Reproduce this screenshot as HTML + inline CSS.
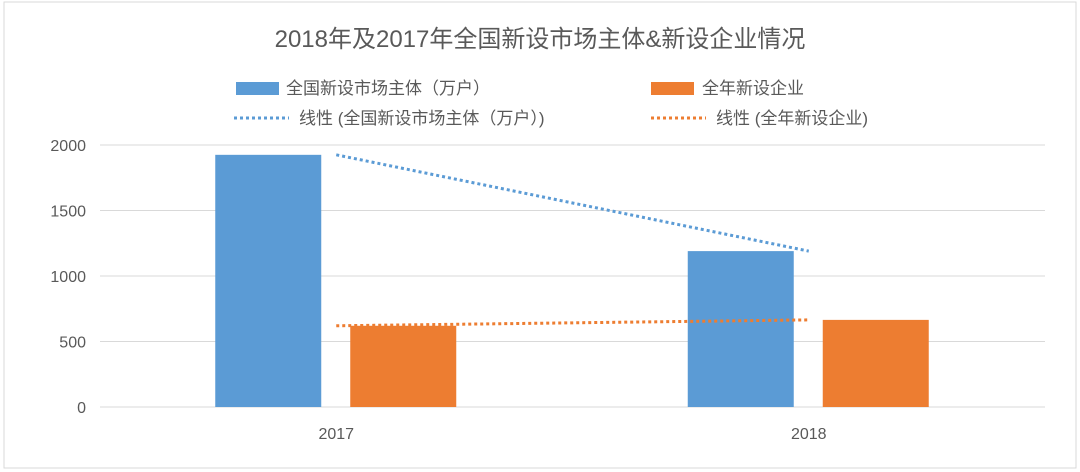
<!DOCTYPE html>
<html><head><meta charset="utf-8"><style>
body{margin:0;background:#fff;}
svg{display:block;font-family:"Liberation Sans","Noto Sans CJK SC",sans-serif;}
</style></head><body>
<svg id="chart" width="1080" height="472">
<rect x="4" y="2" width="1072" height="466" fill="#fff" stroke="#d9d9d9"/>
<text x="540" y="47" text-anchor="middle" font-size="24" fill="#595959">2018年及2017年全国新设市场主体&amp;新设企业情况</text>
<g>
<rect x="236" y="82" width="43" height="13" fill="#5b9bd5"/>
<text x="286" y="94" font-size="17" fill="#595959">全国新设市场主体（万户）</text>
<rect x="651" y="82" width="43" height="13" fill="#ed7d31"/>
<text x="702" y="94" font-size="17" fill="#595959">全年新设企业</text>
<line x1="234" y1="118" x2="289" y2="118" stroke="#5b9bd5" stroke-width="3" stroke-dasharray="3,3"/>
<text x="299" y="124" font-size="17" fill="#595959">线性 (全国新设市场主体（万户）)</text>
<line x1="651" y1="118" x2="706" y2="118" stroke="#ed7d31" stroke-width="3" stroke-dasharray="3,3"/>
<text x="716" y="124" font-size="17" fill="#595959">线性 (全年新设企业)</text>
</g>
<g id="plot"></g>
</svg>
<script>
const categories=["2017","2018"];
const entities=[1925,1190];
const enterprises=[620,665];
const yTicks=[0,500,1000,1500,2000];
const NS="http://www.w3.org/2000/svg";
const plot=document.getElementById("plot");
const x0=100,x1=1045,yb=407,yt=145,ymax=2000;
const y=v=>yb-(v/ymax)*(yb-yt);
const band=(x1-x0)/categories.length;
const cx=i=>x0+band*(i+0.5);
function mk(tag,attrs){const e=document.createElementNS(NS,tag);for(const k in attrs)e.setAttribute(k,attrs[k]);plot.appendChild(e);return e;}
yTicks.forEach(t=>{
const g=mk("line",{x1:x0,x2:x1,y1:y(t),y2:y(t),stroke:"#d9d9d9","stroke-width":1});


const l=mk("text",{x:86,y:y(t)+6,"text-anchor":"end","font-size":16,fill:"#595959"});
l.textContent=t;


});
const bw=106;
categories.forEach((c,i)=>{
const b1=mk("rect",{x:cx(i)-121,y:y(entities[i]),width:bw,height:yb-y(entities[i]),fill:"#5b9bd5"});


const b2=mk("rect",{x:cx(i)+14,y:y(enterprises[i]),width:bw,height:yb-y(enterprises[i]),fill:"#ed7d31"});


const t=mk("text",{x:cx(i),y:439,"text-anchor":"middle","font-size":16,fill:"#595959"});
t.textContent=c;


});
const tl1=mk("line",{x1:cx(0),y1:y(entities[0]),x2:cx(1),y2:y(entities[1]),stroke:"#5b9bd5","stroke-width":3,"stroke-dasharray":"3,3"});


const tl2=mk("line",{x1:cx(0),y1:y(enterprises[0]),x2:cx(1),y2:y(enterprises[1]),stroke:"#ed7d31","stroke-width":3,"stroke-dasharray":"3,3"});


</script>
</body></html>
